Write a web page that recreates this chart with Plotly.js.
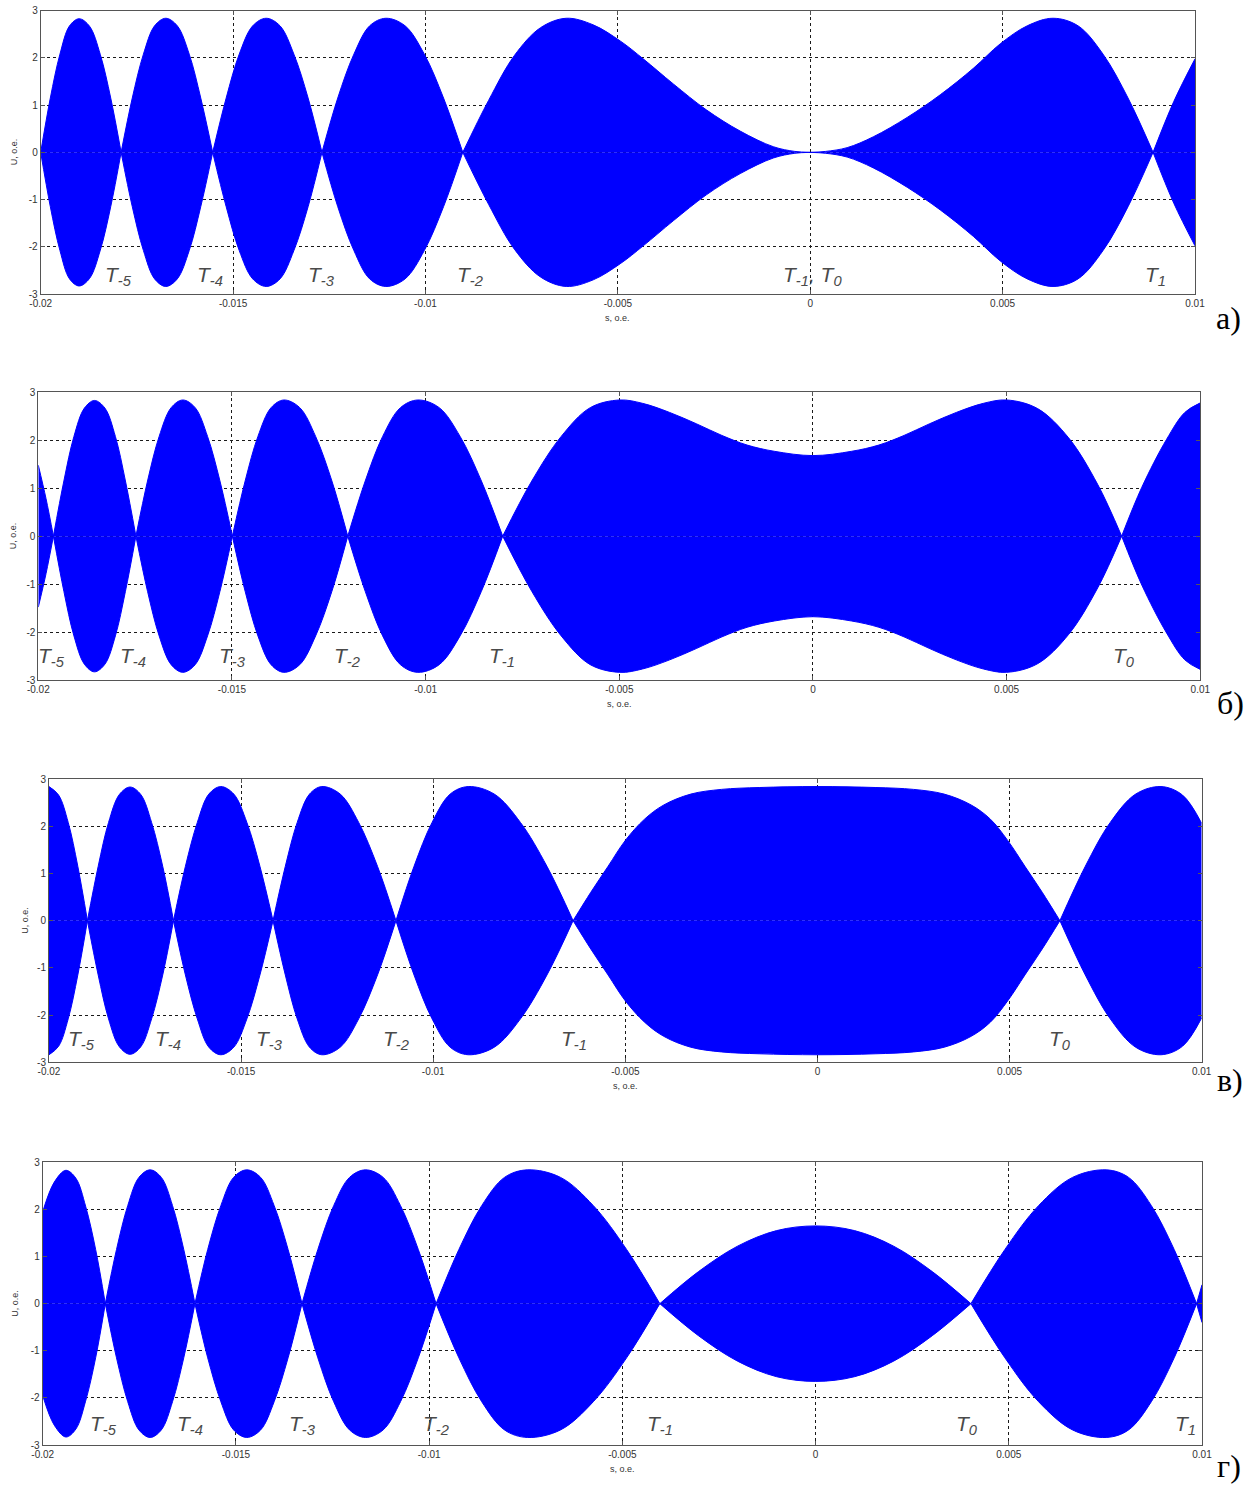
<!DOCTYPE html>
<html>
<head>
<meta charset="utf-8">
<script src="https://cdn.plot.ly/plotly-3.0.1.min.js"></script>
<style>
  html, body { margin: 0; padding: 0; background: #ffffff; }
  #chart { width: 1259px; height: 1485px; }
</style>
</head>
<body>
<div id="chart"></div>
<script>
// Upper envelope of the voltage U (o.e.) versus slip s (o.e.); the lower envelope is its mirror.
// Zero values mark the beat nodes T_k.

// а)
const aS = [-0.0200, -0.01975, -0.0195, -0.01925, -0.0190, -0.01873, -0.01845, -0.01818, -0.01791,
  -0.01762, -0.01733, -0.01704, -0.01675, -0.01645, -0.01614, -0.01584, -0.01553,
  -0.01518, -0.01484, -0.01449, -0.01414, -0.01378, -0.01342, -0.01305, -0.01269,
  -0.01228, -0.01186, -0.01145, -0.01103, -0.01053, -0.01003, -0.00953, -0.00903,
  -0.00836, -0.00769, -0.00701, -0.00634, -0.00564, -0.00494, -0.00434, -0.00356, -0.00270, -0.00182, -0.00096, -0.00040, 0,
  0.00040, 0.00096, 0.00164, 0.00252, 0.00338, 0.00424, 0.00494, 0.00564, 0.00631, 0.00696, 0.00761, 0.00826, 0.00891,
  0.00945, 0.0100];
const aU = [0, 1.15, 2.08, 2.68, 2.83, 2.67, 2.07, 1.15, 0,
  1.15, 2.08, 2.68, 2.84, 2.68, 2.08, 1.15, 0,
  1.15, 2.08, 2.68, 2.84, 2.68, 2.08, 1.15, 0,
  1.15, 2.08, 2.68, 2.84, 2.68, 2.08, 1.15, 0,
  1.1, 2.05, 2.64, 2.84, 2.7, 2.36, 1.98, 1.45, 0.9, 0.45, 0.12, 0.02, 0,
  0.02, 0.1, 0.33, 0.74, 1.22, 1.78, 2.3, 2.68, 2.84, 2.68, 2.08, 1.15, 0,
  1.08, 1.98];

// б)
const bS = [-0.0200, -0.01980, -0.01961,
  -0.01934, -0.01908, -0.01881, -0.01855, -0.01828, -0.01801, -0.01775, -0.01748,
  -0.01718, -0.01688, -0.01657, -0.01627, -0.01595, -0.01563, -0.01531, -0.01499,
  -0.01466, -0.01433, -0.01399, -0.01366, -0.01325, -0.01284, -0.01242, -0.01201,
  -0.01156, -0.01111, -0.01065, -0.01020, -0.00965, -0.00911, -0.00856, -0.00801,
  -0.00726, -0.00650, -0.00575, -0.00499, -0.00440, -0.00370, -0.00300, -0.00235, -0.00170, -0.00100, 0,
  0.00100, 0.00170, 0.00235, 0.00300, 0.00370, 0.00440, 0.00500, 0.00580, 0.00660, 0.00735, 0.00797,
  0.00849, 0.00913, 0.00960, 0.0100];
const bU = [1.48, 0.78, 0,
  1.15, 2.08, 2.67, 2.83, 2.67, 2.08, 1.15, 0,
  1.15, 2.08, 2.68, 2.84, 2.68, 2.08, 1.15, 0,
  1.15, 2.08, 2.68, 2.84, 2.68, 2.08, 1.15, 0,
  1.15, 2.08, 2.68, 2.84, 2.68, 2.08, 1.15, 0,
  1.15, 2.08, 2.68, 2.84, 2.77, 2.58, 2.34, 2.1, 1.9, 1.77, 1.68,
  1.77, 1.9, 2.1, 2.34, 2.58, 2.77, 2.84, 2.66, 2.05, 1.08, 0,
  1.02, 2.02, 2.58, 2.78];

// в)
const cS = [-0.0200, -0.01975, -0.0195, -0.01925, -0.01900,
  -0.01872, -0.01845, -0.01817, -0.01789, -0.01761, -0.01733, -0.01704, -0.01676,
  -0.01645, -0.01614, -0.01584, -0.01553, -0.01519, -0.01485, -0.01451, -0.01417,
  -0.01385, -0.01354, -0.01322, -0.01290, -0.01242, -0.01194, -0.01145, -0.01097,
  -0.01050, -0.01003, -0.00956, -0.00909, -0.00841, -0.00773, -0.00704, -0.00636,
  -0.00590, -0.00545, -0.00500, -0.00450, -0.00400, -0.00330, -0.00250, -0.00150, 0,
  0.00150, 0.00250, 0.00330, 0.00400, 0.00450, 0.00495, 0.00540, 0.00585, 0.00631,
  0.00697, 0.00762, 0.00828, 0.00894, 0.00950, 0.0100];
const cU = [2.84, 2.66, 2.08, 1.15, 0,
  1.15, 2.08, 2.67, 2.83, 2.67, 2.08, 1.15, 0,
  1.15, 2.08, 2.68, 2.84, 2.68, 2.08, 1.15, 0,
  1.15, 2.08, 2.68, 2.84, 2.68, 2.08, 1.15, 0,
  1.15, 2.08, 2.68, 2.84, 2.68, 2.08, 1.15, 0,
  0.6, 1.15, 1.7, 2.15, 2.45, 2.68, 2.78, 2.82, 2.84,
  2.82, 2.78, 2.68, 2.45, 2.15, 1.7, 1.15, 0.6, 0,
  1.15, 2.08, 2.68, 2.84, 2.66, 2.06];

// г)
const dS = [-0.0200, -0.0197, -0.0194, -0.01914, -0.01889, -0.01863, -0.01838,
  -0.01809, -0.01780, -0.01751, -0.01722, -0.01693, -0.01664, -0.01635, -0.01606,
  -0.01573, -0.01539, -0.01506, -0.01472, -0.01436, -0.01401, -0.01365, -0.01329,
  -0.01288, -0.01247, -0.01206, -0.01165, -0.01119, -0.01074, -0.01028, -0.00982,
  -0.00923, -0.00864, -0.00805, -0.00746, -0.00660, -0.00575, -0.00489, -0.00403,
  -0.00303, -0.00202, -0.00101, 0, 0.00101, 0.00202, 0.00302, 0.00402,
  0.00490, 0.00577, 0.00665, 0.00752, 0.00810, 0.00869, 0.00928, 0.00986,
  0.0100];
const dU = [1.95, 2.58, 2.83, 2.66, 2.07, 1.15, 0,
  1.15, 2.08, 2.68, 2.84, 2.68, 2.08, 1.15, 0,
  1.15, 2.08, 2.68, 2.84, 2.68, 2.08, 1.15, 0,
  1.15, 2.08, 2.68, 2.84, 2.68, 2.08, 1.15, 0,
  1.15, 2.08, 2.68, 2.84, 2.68, 2.08, 1.15, 0,
  0.68, 1.22, 1.55, 1.65, 1.55, 1.22, 0.68, 0,
  1.15, 2.08, 2.68, 2.84, 2.68, 2.08, 1.15, 0,
  0.4];

// Node markers T_k: subscript and slip position for each panel
const aTs = ['-5', '-4', '-3', '-2', '1'];
const aTx = [-0.01798, -0.01559, -0.01271, -0.00884, 0.00897];
const bTs = ['-5', '-4', '-3', '-2', '-1', '0'];
const bTx = [-0.01965, -0.01756, -0.01498, -0.01203, -0.00803, 0.00803];
const cTs = ['-5', '-4', '-3', '-2', '-1', '0'];
const cTx = [-0.01915, -0.01691, -0.01425, -0.01097, -0.00634, 0.00631];
const dTs = ['-5', '-4', '-3', '-2', '-1', '0', '1'];
const dTx = [-0.01842, -0.01619, -0.01329, -0.00982, -0.00403, 0.00392, 0.00956];

const xTicks = [-0.02, -0.015, -0.01, -0.005, 0, 0.005, 0.01];
const xTickText = ['-0.02', '-0.015', '-0.01', '-0.005', '0', '0.005', '0.01'];
const yTicks = [-3, -2, -1, 0, 1, 2, 3];
const yTickText = ['-3', '-2', '-1', '0', '1', '2', '3'];

const panelLetters = ['а)', 'б)', 'в)', 'г)'];

// ---- page geometry (pixels) ----
const W = 1259, H = 1485;
const boxes = [           // [left, top, right, bottom] of each plot area
  [40.7, 10.7, 1195, 294],
  [38.3, 392.3, 1200.3, 680],
  [49, 779, 1201.7, 1062.3],
  [42.7, 1162.3, 1202, 1445]
];
const labelY = [-2.62, -2.52, -2.53, -2.58];
const uTitleX = [14, 13, 25, 15];
const letterPos = [[1228, 318], [1230, 703], [1230, 1080], [1229, 1466]];

const BLUE = '#0000ff';
const INK = '#333333';
const TFONT = { family: 'Liberation Sans Narrow, Liberation Sans, Arial, sans-serif', size: 21, color: '#4a4a4a' };

function splitLobes(S, U) {
  const segs = [];
  let cur = { x: [], y: [] };
  for (let i = 0; i < S.length; i++) {
    cur.x.push(S[i]); cur.y.push(U[i]);
    if (U[i] === 0 && cur.x.length > 1) {
      segs.push(cur);
      cur = { x: [S[i]], y: [0] };
    }
  }
  if (cur.x.length > 1) segs.push(cur);
  return segs;
}

const series = [[aS, aU], [bS, bU], [cS, cU], [dS, dU]];
const marks = [[aTs, aTx], [bTs, bTx], [cTs, cTx], [dTs, dTx]];

const traces = [];
const layout = {
  width: W, height: H, autosize: false,
  margin: { l: 0, r: 0, t: 0, b: 0 },
  paper_bgcolor: '#ffffff', plot_bgcolor: '#ffffff',
  showlegend: false,
  annotations: [],
  font: { family: 'Liberation Sans, Arial, sans-serif', size: 10, color: INK }
};

series.forEach(([S, U], p) => {
  const n = p === 0 ? '' : String(p + 1);
  const xa = 'x' + n, ya = 'y' + n;
  splitLobes(S, U).forEach(seg => {
    const common = {
      type: 'scatter', mode: 'lines', xaxis: xa, yaxis: ya,
      fill: 'tozeroy', fillcolor: BLUE,
      line: { color: BLUE, width: 1, shape: 'spline', smoothing: 1 },
      hoverinfo: 'skip'
    };
    traces.push(Object.assign({}, common, { x: seg.x, y: seg.y }));
    traces.push(Object.assign({}, common, { x: seg.x, y: seg.y.map(v => -v) }));
  });

  const [l, t, r, b] = boxes[p];
  const axisCommon = {
    showgrid: true, gridcolor: '#1a1a1a', griddash: 'dot', gridwidth: 1,
    zeroline: false, showline: true, linecolor: '#555555', linewidth: 1,
    mirror: 'ticks', ticks: 'inside', ticklen: 4, tickcolor: '#555555',
    tickfont: { family: 'Liberation Sans, Arial, sans-serif', size: 10, color: INK },
    fixedrange: true, automargin: false
  };
  layout['xaxis' + n] = Object.assign({}, axisCommon, {
    domain: [l / W, r / W], anchor: ya, range: [-0.02, 0.01],
    tickmode: 'array', tickvals: xTicks, ticktext: xTickText
  });
  layout['yaxis' + n] = Object.assign({}, axisCommon, {
    domain: [1 - b / H, 1 - t / H], anchor: xa, range: [-3, 3],
    tickmode: 'array', tickvals: yTicks, ticktext: yTickText
  });

  // axis titles
  layout.annotations.push({
    xref: 'paper', yref: 'paper', x: (l + r) / 2 / W, y: 1 - (b + 24) / H,
    text: 's, o.e.', showarrow: false, xanchor: 'center', yanchor: 'middle',
    font: { family: 'Liberation Sans, Arial, sans-serif', size: 9, color: INK }
  });
  layout.annotations.push({
    xref: 'paper', yref: 'paper', x: uTitleX[p] / W, y: 1 - (t + b) / 2 / H,
    text: 'U, o.e.', showarrow: false, textangle: -90, xanchor: 'center', yanchor: 'middle',
    font: { family: 'Liberation Sans, Arial, sans-serif', size: 9, color: INK }
  });

  // node markers
  const [ts, tx] = marks[p];
  ts.forEach((s, i) => {
    layout.annotations.push({
      xref: xa, yref: ya, x: tx[i], y: labelY[p],
      text: '<i>T<sub>' + s + '</sub></i>', showarrow: false,
      xanchor: 'center', yanchor: 'middle', font: TFONT
    });
  });
  if (p === 0) {
    layout.annotations.push({
      xref: xa, yref: ya, x: 0.00005, y: labelY[p],
      text: '<i>T<sub>-1</sub>, T<sub>0</sub></i>', showarrow: false,
      xanchor: 'center', yanchor: 'middle', font: TFONT
    });
  }

  // panel letter
  layout.annotations.push({
    xref: 'paper', yref: 'paper', x: letterPos[p][0] / W, y: 1 - letterPos[p][1] / H,
    text: panelLetters[p], showarrow: false, xanchor: 'center', yanchor: 'middle',
    font: { family: 'Liberation Serif, Times New Roman, serif', size: 32, color: '#000000' }
  });
});

Plotly.newPlot('chart', traces, layout, { displayModeBar: false, staticPlot: true });
</script>
</body>
</html>
